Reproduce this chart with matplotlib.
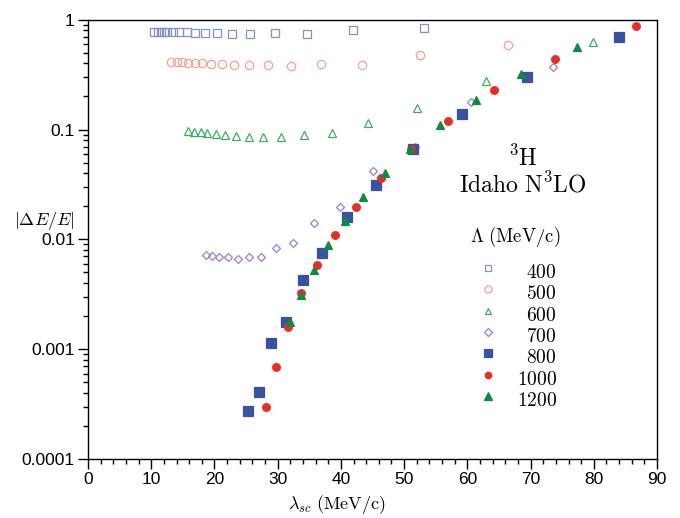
import matplotlib
matplotlib.use("Agg")
import matplotlib.pyplot as plt
from matplotlib.ticker import MultipleLocator, FixedLocator, FixedFormatter, LogLocator, NullFormatter

plt.rcParams['font.family'] = ['Liberation Sans', 'DejaVu Sans']
plt.rcParams['mathtext.fontset'] = 'cm'

# lambda_sc (MeV/c) and |dE/E| for each cutoff Lambda
lam400 = [10.5, 11.1, 11.6, 12.0, 12.5, 13.4, 14.4, 15.6, 16.9, 18.5, 20.4, 22.7, 25.7, 29.5, 34.6, 41.9, 53.1]
err400 = [0.778, 0.778, 0.778, 0.778, 0.776, 0.77, 0.77, 0.765, 0.76, 0.755, 0.752, 0.748, 0.746, 0.75, 0.746, 0.811, 0.84]

lam500 = [13.2, 14.0, 14.9, 15.8, 16.9, 18.1, 19.5, 21.2, 23.1, 25.5, 28.5, 32.1, 36.9, 43.4, 52.5, 66.4]
err500 = [0.414, 0.412, 0.412, 0.406, 0.404, 0.401, 0.395, 0.392, 0.389, 0.384, 0.384, 0.376, 0.392, 0.387, 0.48, 0.592]

lam600 = [15.8, 16.8, 17.8, 18.9, 20.2, 21.7, 23.4, 25.4, 27.7, 30.6, 34.1, 38.6, 44.3, 52.0, 62.9, 79.8]
err600 = [0.0975, 0.0955, 0.0943, 0.0929, 0.091, 0.0891, 0.0878, 0.086, 0.0855, 0.0849, 0.0885, 0.0923, 0.114, 0.156, 0.275, 0.63]

lam700 = [18.6, 19.6, 20.8, 22.2, 23.7, 25.4, 27.4, 29.7, 32.5, 35.8, 39.9, 45.0, 51.7, 60.6, 73.5]
err700 = [0.00724, 0.00705, 0.00686, 0.00686, 0.00665, 0.00695, 0.00686, 0.00828, 0.0092, 0.0142, 0.0197, 0.0419, 0.0689, 0.177, 0.368]

lam800 = [25.3, 27.1, 28.9, 31.3, 34.0, 37.0, 40.9, 45.6, 51.4, 59.2, 69.4, 84.0]
err800 = [0.000275, 0.000406, 0.00114, 0.00178, 0.00426, 0.0075, 0.0161, 0.0314, 0.0664, 0.1376, 0.303, 0.696]

lam1000 = [28.1, 29.7, 31.6, 33.7, 36.2, 39.0, 42.4, 46.3, 51.1, 57.0, 64.2, 73.8, 86.7]
err1000 = [0.000297, 0.00069, 0.00159, 0.00322, 0.00587, 0.0109, 0.0197, 0.0362, 0.066, 0.119, 0.228, 0.436, 0.882]

lam1200 = [32.0, 33.7, 35.8, 37.9, 40.6, 43.5, 47.0, 50.9, 55.6, 61.4, 68.5, 77.3]
err1200 = [0.00175, 0.00313, 0.00525, 0.0088, 0.0147, 0.0241, 0.0399, 0.066, 0.110, 0.1845, 0.318, 0.561]

labels = ['400', '500', '600', '700', '800', '1000', '1200']

series = [
    (lam400, err400, 's', 5.5, 'none', '#8391cc'),
    (lam500, err500, 'o', 6, 'none', '#f5a195'),
    (lam600, err600, '^', 5.5, 'none', '#3cae64'),
    (lam700, err700, 'D', 4.5, 'none', '#9b7fcf'),
    (lam800, err800, 's', 6.5, '#3953a4', '#3953a4'),
    (lam1000, err1000, 'o', 5.5, '#ec2c22', '#ec2c22'),
    (lam1200, err1200, '^', 6, '#0e8b3e', '#0e8b3e'),
]

fig = plt.figure(figsize=(6.8, 5.18), dpi=100)
ax = fig.add_axes([0.1294, 0.1139, 0.8368, 0.8481])

for (x, y, m, ms, fc, ec) in series:
    ax.plot(x, y, linestyle='none', marker=m, markersize=ms,
            markerfacecolor=fc, markeredgecolor=ec, markeredgewidth=0.9)

ax.set_yscale('log')
ax.set_xlim(0, 90)
ax.set_ylim(1e-4, 1)

ax.xaxis.set_major_locator(MultipleLocator(10))
ax.xaxis.set_minor_locator(MultipleLocator(2))
ax.yaxis.set_major_locator(FixedLocator([1e-4, 1e-3, 1e-2, 1e-1, 1]))
ax.yaxis.set_major_formatter(FixedFormatter(['0.0001', '0.001', '0.01', '0.1', '1']))
ax.yaxis.set_minor_locator(LogLocator(base=10, subs=range(2, 10)))
ax.yaxis.set_minor_formatter(NullFormatter())

ax.tick_params(which='major', direction='out', length=7.5, width=1.0, labelsize=12.5,
               pad=2, top=False, right=False)
ax.tick_params(which='minor', direction='out', length=3.75, width=1.0, top=False, right=False)
for s in ax.spines.values():
    s.set_linewidth(1.0)

ax.set_xlabel(r'$\lambda_{sc}\ \mathrm{(MeV/c)}$', fontsize=13)
ax.xaxis.set_label_coords(0.4376, -0.1025)
ax.xaxis.label.set_va('center')
ax.text(-0.0773, 0.5425, r'$|\Delta E/E|$', transform=ax.transAxes, fontsize=13,
        ha='center', va='center')

ax.text(0.7645, 0.685, r'$\mathrm{{}^3H}$', transform=ax.transAxes, fontsize=17,
        ha='center', va='center')
ax.text(0.7645, 0.624, r'$\mathrm{Idaho\ N^3LO}$', transform=ax.transAxes, fontsize=17,
        ha='center', va='center')
ax.text(0.750, 0.505, r'$\Lambda\ \mathrm{(MeV/c)}$', transform=ax.transAxes, fontsize=13.5,
        ha='center', va='center')

# key: markers on the left, values right aligned
for i, (lab, (x, y, m, ms, fc, ec)) in enumerate(zip(labels, series)):
    yy = 0.424 - i * 0.0487
    ax.plot([0.703], [yy + 0.011], transform=ax.transAxes, linestyle='none', marker=m,
            markersize=ms * 0.85, markerfacecolor=fc, markeredgecolor=ec,
            markeredgewidth=0.9, clip_on=False)
    ax.text(0.824, yy, r'$\mathrm{' + lab + '}$', transform=ax.transAxes, fontsize=14,
            ha='right', va='center')

fig.savefig('out.png', dpi=100)
